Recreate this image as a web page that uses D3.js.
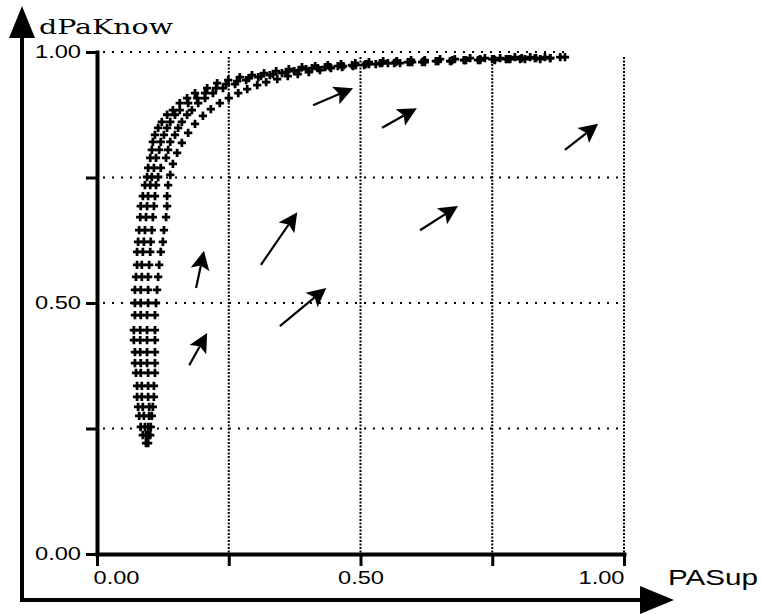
<!DOCTYPE html>
<html>
<head>
<meta charset="utf-8">
<script src="https://cdn.jsdelivr.net/npm/d3@7"></script>
<style>
  html, body { margin: 0; padding: 0; background: #fff; }
  svg { display: block; }
</style>
</head>
<body>
<svg id="chart"></svg>
<script>
// axis ticks and labels
const xTicks = [0, 0.25, 0.5, 0.75, 1];
const yTicks = [0, 0.25, 0.5, 0.75, 1];
const tickLabels = ["0.00", "", "0.50", "", "1.00"];
const xLabel = "PASup";
const yLabel = "dPaKnow";

// simulated runs (PASup, dPaKnow), one marker per time step
const run1 = [
  [0.087,0.237],[0.083,0.253],[0.080,0.275],[0.078,0.293],[0.076,0.313],[0.076,0.335],[0.074,0.361],
  [0.072,0.380],[0.072,0.402],[0.070,0.426],[0.070,0.446],[0.072,0.476],[0.072,0.500],[0.072,0.526],
  [0.074,0.552],[0.076,0.576],[0.076,0.602],[0.078,0.622],[0.080,0.645],[0.082,0.671],[0.083,0.693],
  [0.087,0.713],[0.091,0.735],[0.095,0.751],[0.097,0.769],[0.101,0.789],[0.104,0.805],[0.106,0.821],
  [0.110,0.835],[0.116,0.849],[0.123,0.861],[0.133,0.875],[0.144,0.884],[0.157,0.898],[0.171,0.908],
  [0.186,0.918],[0.209,0.928],[0.228,0.938],[0.249,0.944],[0.271,0.950],[0.294,0.954],[0.317,0.958],
  [0.340,0.962],[0.364,0.966],[0.389,0.970],[0.414,0.972],[0.438,0.974],[0.463,0.976],[0.490,0.978],
  [0.516,0.980],[0.543,0.982],[0.569,0.982],[0.596,0.984],[0.622,0.984],[0.651,0.986],[0.679,0.986],
  [0.708,0.988],[0.736,0.988],[0.765,0.988],[0.793,0.990],[0.822,0.990],[0.850,0.990],[0.879,0.990]
];
const run2 = [
  [0.093,0.221],[0.093,0.237],[0.091,0.253],[0.089,0.275],[0.087,0.293],[0.085,0.313],[0.085,0.335],
  [0.083,0.361],[0.083,0.380],[0.082,0.402],[0.082,0.426],[0.082,0.446],[0.083,0.476],[0.083,0.500],
  [0.083,0.526],[0.085,0.552],[0.085,0.576],[0.087,0.602],[0.089,0.622],[0.091,0.645],[0.093,0.671],
  [0.095,0.693],[0.097,0.713],[0.101,0.735],[0.104,0.751],[0.108,0.769],[0.112,0.789],[0.118,0.805],
  [0.121,0.821],[0.127,0.835],[0.133,0.849],[0.139,0.861],[0.148,0.875],[0.157,0.884],[0.173,0.898],
  [0.190,0.908],[0.205,0.918],[0.226,0.928],[0.245,0.936],[0.266,0.942],[0.288,0.948],[0.311,0.952],
  [0.334,0.956],[0.359,0.960],[0.383,0.964],[0.408,0.968],[0.433,0.970],[0.457,0.972],[0.484,0.974],
  [0.510,0.976],[0.537,0.978],[0.564,0.978],[0.590,0.980],[0.617,0.980],[0.643,0.982],[0.670,0.982],
  [0.698,0.984],[0.727,0.984],[0.755,0.984],[0.784,0.986],[0.812,0.986],[0.841,0.986]
];
const run3 = [
  [0.097,0.237],[0.097,0.253],[0.099,0.275],[0.099,0.293],[0.097,0.313],[0.097,0.335],[0.097,0.361],
  [0.095,0.380],[0.095,0.402],[0.095,0.426],[0.095,0.446],[0.095,0.476],[0.097,0.500],[0.097,0.526],
  [0.097,0.552],[0.099,0.576],[0.101,0.602],[0.102,0.622],[0.104,0.645],[0.106,0.671],[0.108,0.693],
  [0.110,0.713],[0.112,0.735],[0.116,0.751],[0.121,0.769],[0.131,0.789],[0.135,0.805],[0.139,0.821],
  [0.148,0.835],[0.154,0.849],[0.161,0.861],[0.171,0.875],[0.180,0.884],[0.192,0.898],[0.205,0.908],
  [0.220,0.918],[0.239,0.928],[0.262,0.936],[0.283,0.944],[0.306,0.950],[0.328,0.954],[0.351,0.958],
  [0.374,0.962],[0.397,0.966],[0.419,0.968],[0.442,0.970],[0.467,0.972],[0.491,0.974],[0.516,0.976],
  [0.541,0.978],[0.567,0.980],[0.594,0.980],[0.620,0.982],[0.647,0.982],[0.674,0.984],[0.700,0.984],
  [0.727,0.986],[0.753,0.986],[0.780,0.986],[0.806,0.988],[0.833,0.988],[0.860,0.988]
];
const run4 = [
  [0.097,0.221],[0.101,0.237],[0.102,0.253],[0.104,0.275],[0.106,0.293],[0.108,0.313],[0.108,0.335],
  [0.110,0.361],[0.110,0.380],[0.110,0.402],[0.110,0.426],[0.110,0.446],[0.110,0.476],[0.112,0.500],
  [0.114,0.526],[0.116,0.552],[0.118,0.576],[0.121,0.602],[0.125,0.622],[0.127,0.645],[0.131,0.671],
  [0.133,0.693],[0.133,0.713],[0.135,0.735],[0.139,0.755],[0.144,0.777],[0.152,0.799],[0.161,0.819],
  [0.173,0.839],[0.186,0.857],[0.201,0.873],[0.216,0.886],[0.233,0.898],[0.250,0.908],[0.268,0.918],
  [0.285,0.926],[0.304,0.934],[0.321,0.940],[0.342,0.946],[0.362,0.952],[0.381,0.956],[0.402,0.960],
  [0.423,0.964],[0.444,0.968],[0.465,0.970],[0.486,0.972],[0.507,0.974],[0.529,0.976],[0.552,0.978],
  [0.575,0.978],[0.598,0.980],[0.622,0.980],[0.647,0.982],[0.672,0.982],[0.696,0.984],[0.723,0.984],
  [0.750,0.986],[0.776,0.986],[0.803,0.986],[0.831,0.988],[0.860,0.988],[0.888,0.990]
];
const runs = [run1, run2, run3, run4];

// direction field: [x0, y0, x1, y1] from tail to tip
const arrows = [
  [0.188, 0.530, 0.203, 0.604],
  [0.175, 0.376, 0.209, 0.440],
  [0.311, 0.576, 0.380, 0.681],
  [0.347, 0.454, 0.435, 0.530],
  [0.410, 0.894, 0.486, 0.928],
  [0.541, 0.849, 0.607, 0.888],
  [0.888, 0.805, 0.951, 0.857],
  [0.613, 0.645, 0.685, 0.693]
];

const width = 761, height = 614;
const fontSans = "'Liberation Sans', Arial, sans-serif";

const x = d3.scaleLinear([0, 1], [97, 624]);
const y = d3.scaleLinear([0, 1], [554, 52]);

const svg = d3.select("#chart")
    .attr("width", width)
    .attr("height", height)
    .attr("viewBox", [0, 0, width, height]);

svg.append("rect").attr("width", width).attr("height", height).attr("fill", "#fff");

// dotted grid
svg.append("g")
    .attr("stroke", "#000")
    .attr("stroke-width", 2)
    .attr("stroke-dasharray", "2,7")
    .selectAll("line")
    .data(yTicks.filter(d => d > 0))
    .join("line")
    .attr("x1", x(0) + 6)
    .attr("x2", d => d === 1 ? x(0.89) : x(1))
    .attr("y1", d => y(d))
    .attr("y2", d => y(d));

svg.append("g")
    .attr("stroke", "#000")
    .attr("stroke-width", 2)
    .attr("stroke-dasharray", "2,1.5")
    .selectAll("line")
    .data(xTicks.filter(d => d > 0))
    .join("line")
    .attr("x1", d => x(d))
    .attr("x2", d => x(d))
    .attr("y1", y(0.99))
    .attr("y2", y(0));

// outer arrows
svg.append("line")
    .attr("x1", 22).attr("y1", 600).attr("x2", 22).attr("y2", 30)
    .attr("stroke", "#000").attr("stroke-width", 4);
svg.append("path").attr("d", "M22,6L35,38L9,38Z").attr("fill", "#000");
svg.append("line")
    .attr("x1", 20).attr("y1", 600).attr("x2", 645).attr("y2", 600)
    .attr("stroke", "#000").attr("stroke-width", 4);
svg.append("path").attr("d", "M674,600L640,586L640,614Z").attr("fill", "#000");

// axes
const styleAxis = g => {
  g.select(".domain").attr("stroke-width", 4).attr("stroke-linecap", "square");
  g.selectAll(".tick line").attr("stroke-width", 3);
  g.selectAll(".tick text")
      .attr("font-family", fontSans)
      .attr("font-size", 18)
      .attr("fill", "#000")
      .filter((d, i) => tickLabels[i] !== "")
      .attr("textLength", 46)
      .attr("lengthAdjust", "spacingAndGlyphs");
};

svg.append("g")
    .attr("transform", `translate(${x(0)},0)`)
    .call(d3.axisLeft(y).tickValues(yTicks).tickSize(11).tickSizeOuter(0).tickPadding(5)
        .tickFormat((d, i) => tickLabels[i]))
    .call(styleAxis);

svg.append("g")
    .attr("transform", `translate(0,${y(0)})`)
    .call(d3.axisBottom(x).tickValues(xTicks).tickSize(12).tickSizeOuter(0).tickPadding(5)
        .tickFormat((d, i) => tickLabels[i]))
    .call(styleAxis)
    .call(g => g.selectAll(".tick text")
        .attr("text-anchor", (d, i) => i === 0 ? "start" : i === xTicks.length - 1 ? "end" : "middle")
        .attr("dx", (d, i) => i === 0 ? -4 : 0));

// axis titles
svg.append("text")
    .attr("x", 39).attr("y", 34)
    .attr("font-family", "'DejaVu Serif', serif")
    .attr("font-size", 20)
    .attr("textLength", 134)
    .attr("lengthAdjust", "spacingAndGlyphs")
    .text(yLabel);

svg.append("text")
    .attr("x", 668).attr("y", 585)
    .attr("font-family", fontSans)
    .attr("font-size", 22)
    .attr("textLength", 90)
    .attr("lengthAdjust", "spacingAndGlyphs")
    .text(xLabel);

// trajectory markers
const cross = d3.symbol(d3.symbolCross, 38);
svg.append("g")
    .attr("fill", "#000")
    .selectAll("g")
    .data(runs)
    .join("g")
    .selectAll("path")
    .data(d => d)
    .join("path")
    .attr("transform", d => `translate(${x(d[0])},${y(d[1])})`)
    .attr("d", cross);

// direction arrows
const headLen = 19, headHalf = 9.5;
const arrowG = svg.append("g");
arrows.forEach(([x0, y0, x1, y1]) => {
  const ax = x(x0), ay = y(y0), bx = x(x1), by = y(y1);
  const a = Math.atan2(by - ay, bx - ax);
  const cx = bx - headLen * Math.cos(a), cy = by - headLen * Math.sin(a);
  arrowG.append("line")
      .attr("x1", ax).attr("y1", ay).attr("x2", cx + 4 * Math.cos(a)).attr("y2", cy + 4 * Math.sin(a))
      .attr("stroke", "#000").attr("stroke-width", 2.2);
  arrowG.append("path")
      .attr("d", d3.line()([
        [bx, by],
        [cx + headHalf * Math.sin(a), cy - headHalf * Math.cos(a)],
        [cx + 4 * Math.cos(a), cy + 4 * Math.sin(a)],
        [cx - headHalf * Math.sin(a), cy + headHalf * Math.cos(a)]
      ]) + "Z")
      .attr("fill", "#000");
});
</script>
</body>
</html>
